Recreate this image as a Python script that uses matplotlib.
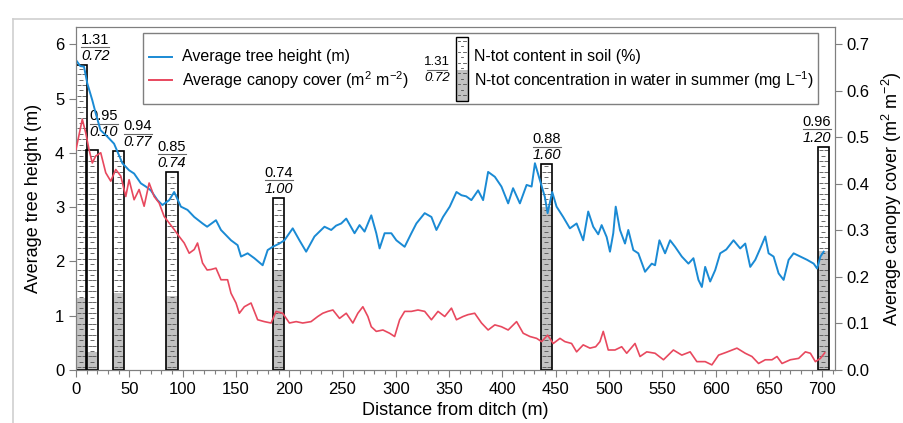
import matplotlib
matplotlib.use("Agg")
import matplotlib.pyplot as plt
import numpy as np
from matplotlib.patches import Rectangle
from matplotlib.transforms import offset_copy

plt.rcParams["font.family"] = ["Liberation Sans", "DejaVu Sans"]
plt.rcParams["mathtext.fontset"] = "custom"
plt.rcParams["mathtext.rm"] = "Liberation Sans"
plt.rcParams["mathtext.it"] = "Liberation Sans:italic"

# average tree height (m) along the transect
height_x = [0, 4, 7.5, 10.6, 15.3, 18.5, 23, 29.4, 35.7, 43.5, 49.8, 54.5, 60.8, 65.5,
            70.2, 76.4, 81.1, 87.4, 92.1, 98.4, 104.6, 110.9, 118.7, 123, 131.3, 136,
            145.4, 151.6, 154.8, 161, 167.3, 175.1, 179.8, 184.5, 190.8, 195.5, 203.3,
            209.6, 215.9, 223.7, 233.1, 239.4, 244, 248.8, 253.5, 261.3, 266, 270.7,
            277, 281.7, 284.8, 289.5, 295.8, 300.5, 308.3, 314.6, 319.3, 327.1, 333.4,
            338.1, 344.3, 350.6, 356.9, 361.6, 366, 370.9, 377.2, 381.9, 386.6, 392.9,
            399.1, 405.4, 410, 416.4, 422.7, 427.4, 430.5, 435.2, 439.8, 442.4, 446.7,
            450.8, 457, 463.3, 469.6, 475.8, 480.5, 485.2, 489.9, 493.1, 497.8, 500.9,
            504, 506.3, 510.3, 515, 518.1, 522.8, 527.5, 533.8, 540.1, 543.2, 547.3,
            552.6, 557.3, 562, 568.3, 574.5, 579.2, 583.9, 587.1, 590.2, 594.9, 599.6,
            604.3, 610, 616.8, 623.1, 627.8, 632.5, 637.2, 641.9, 646.6, 649.7, 654.4,
            659.1, 663.8, 668.5, 673.2, 679.5, 685.8, 692, 695.2, 698.3, 701.4]
height_m = [5.71, 5.60, 5.59, 5.28, 4.97, 4.73, 4.42, 4.30, 4.17, 3.81, 3.68, 3.62, 3.44,
            3.38, 3.31, 3.13, 3.04, 3.13, 3.28, 3.01, 2.95, 2.82, 2.70, 2.64, 2.76, 2.58,
            2.39, 2.30, 2.09, 2.15, 2.06, 1.93, 2.21, 2.27, 2.33, 2.39, 2.61, 2.39, 2.18,
            2.46, 2.64, 2.58, 2.66, 2.70, 2.79, 2.52, 2.67, 2.55, 2.85, 2.52, 2.24, 2.52,
            2.52, 2.39, 2.27, 2.52, 2.70, 2.89, 2.82, 2.58, 2.82, 3.01, 3.28, 3.22, 3.20,
            3.13, 3.31, 3.13, 3.65, 3.56, 3.38, 3.07, 3.35, 3.07, 3.41, 3.38, 3.81, 3.50,
            3.19, 2.89, 3.28, 3.01, 2.82, 2.61, 2.70, 2.39, 2.92, 2.64, 2.50, 2.67, 2.45,
            2.18, 2.52, 3.01, 2.58, 2.33, 2.58, 2.21, 2.15, 1.81, 1.96, 1.93, 2.39, 2.15,
            2.39, 2.27, 2.09, 1.96, 2.06, 1.66, 1.53, 1.90, 1.63, 1.84, 2.15, 2.22, 2.39,
            2.24, 2.33, 1.90, 2.03, 2.24, 2.46, 2.15, 2.09, 1.78, 1.66, 2.03, 2.15, 2.09,
            2.03, 1.96, 1.87, 2.09, 2.18]

# average canopy cover (m2 m-2)
canopy_x = [0, 5.9, 9.1, 12.2, 15.3, 18.5, 23.2, 27.9, 32.6, 37.3, 42, 46.7, 49.8, 54.5,
            59.2, 63.9, 68.6, 73.3, 78, 82.7, 87.4, 92.1, 96.8, 101.5, 106.2, 110.9, 114,
            118.7, 123, 126.6, 131.3, 136, 142.2, 145.4, 150.1, 153.2, 157.9, 164.2, 170.4,
            176.7, 183, 187.7, 193.9, 200.2, 206.5, 212.7, 220.5, 226.8, 231.5, 236.2, 241,
            247.2, 253.5, 259.7, 264.4, 269.1, 273.8, 277, 281.7, 287.9, 294.2, 298.9,
            303.6, 308.3, 314.6, 320.8, 327.1, 333.4, 339.6, 345.9, 352.2, 356.9, 363.1,
            367.8, 374, 380.4, 386.6, 392.9, 399.1, 405.4, 413.3, 419.5, 425.8, 432.1,
            436.8, 442.4, 447.7, 454, 458.6, 464.9, 469.6, 475.8, 482.1, 487.5, 491.5,
            494.6, 499.3, 505.6, 511.9, 516.6, 524.4, 529.1, 535.4, 543.2, 551.1, 560.4,
            568.3, 576.1, 582.4, 590.2, 596.5, 602.8, 610, 620, 627.8, 634.1, 640.3,
            646.6, 652.9, 657.6, 662.3, 670.1, 677.9, 684.2, 688.9, 693.6, 698.3, 702.4]
canopy_cov = [0.474, 0.539, 0.510, 0.474, 0.445, 0.460, 0.467, 0.424, 0.406, 0.431, 0.417,
              0.373, 0.409, 0.366, 0.388, 0.352, 0.402, 0.373, 0.359, 0.330, 0.316, 0.302,
              0.287, 0.273, 0.251, 0.259, 0.273, 0.230, 0.215, 0.216, 0.219, 0.194, 0.194,
              0.165, 0.144, 0.122, 0.136, 0.144, 0.108, 0.104, 0.101, 0.126, 0.122, 0.101,
              0.104, 0.101, 0.104, 0.115, 0.122, 0.126, 0.129, 0.111, 0.122, 0.101, 0.122,
              0.136, 0.115, 0.093, 0.083, 0.086, 0.079, 0.072, 0.108, 0.126, 0.126, 0.129,
              0.126, 0.108, 0.126, 0.115, 0.133, 0.108, 0.115, 0.119, 0.122, 0.101, 0.086,
              0.097, 0.093, 0.086, 0.104, 0.079, 0.072, 0.068, 0.061, 0.075, 0.057, 0.068,
              0.061, 0.057, 0.039, 0.054, 0.047, 0.050, 0.061, 0.083, 0.043, 0.043, 0.050,
              0.036, 0.057, 0.029, 0.039, 0.036, 0.022, 0.043, 0.032, 0.039, 0.018, 0.018,
              0.011, 0.032, 0.038, 0.047, 0.036, 0.029, 0.014, 0.022, 0.022, 0.029, 0.014,
              0.022, 0.025, 0.039, 0.036, 0.018, 0.025, 0.037]

# sampling points with N-tot values
bar_x = [5, 15, 40, 90, 190, 441, 701]
soil_n = ["1.31", "0.95", "0.94", "0.85", "0.74", "0.88", "0.96"]
water_n = ["0.72", "0.10", "0.77", "0.74", "1.00", "1.60", "1.20"]
# bar heights as drawn (left axis units)
soil_bar = [5.62, 4.05, 4.03, 3.65, 3.17, 3.79, 4.11]
water_bar = [1.32, 0.34, 1.41, 1.37, 1.84, 3.01, 2.20]
label_x = [18, 26, 58, 90, 190.5, 441.5, 695]
label_lift = [0, 9, 0, 0, 0, 0, 0]

BLUE = "#1a8ad4"
RED = "#e8485e"
GRAY = "#c2c2c2"
SPINE = "#7f7f7f"
DASH = "#505050"
W = 10.5


def dashes(ax, cx, top, width):
    ys = np.arange(0.05, top - 0.03, 0.1)
    xs_all, ys_all = [], []
    for k, y in enumerate(ys):
        if k % 2 == 0:
            xs_all += [cx - width * 0.22, cx + width * 0.22]
            ys_all += [y, y]
        else:
            xs_all.append(cx)
            ys_all.append(y)
    ax.plot(xs_all, ys_all, ls="none", marker="_", ms=2.6, mew=0.6,
            color=DASH, zorder=3)


fig = plt.figure(figsize=(9.04, 4.23), dpi=100)
ax = fig.add_axes([76 / 904, 53 / 423, (835 - 76) / 904, (370 - 27) / 423])
ax.set_xlim(0, 712)
ax.set_ylim(0, 6.32)

for i in range(len(bar_x)):
    ax.bar(bar_x[i], soil_bar[i], width=W, color="white", edgecolor="none", zorder=2)
    ax.bar(bar_x[i], water_bar[i], width=W, color=GRAY, edgecolor="none", zorder=2)
    dashes(ax, bar_x[i], soil_bar[i], W)
    ax.bar(bar_x[i], soil_bar[i], width=W, fill=False, edgecolor="black", lw=1.2, zorder=3)

    lift = label_lift[i]
    t_low = offset_copy(ax.transData, fig=fig, x=0, y=9 + lift, units="dots")
    t_mid = offset_copy(ax.transData, fig=fig, x=0, y=17.5 + lift, units="dots")
    t_up = offset_copy(ax.transData, fig=fig, x=0, y=25 + lift, units="dots")
    ax.text(label_x[i], soil_bar[i], water_n[i], transform=t_low, ha="center",
            va="center", fontsize=10.5, style="italic")
    ax.text(label_x[i], soil_bar[i], soil_n[i], transform=t_up, ha="center",
            va="center", fontsize=10.5)
    ax.plot([label_x[i] - 13, label_x[i] + 13], [soil_bar[i]] * 2, color="#666666",
            lw=0.8, transform=t_mid, clip_on=False)

ax.plot(height_x, height_m, color=BLUE, lw=1.4, zorder=4)

ax.set_xticks(np.arange(0, 701, 50))
ax.set_xticks(np.arange(0, 711, 10), minor=True)
ax.set_yticks(np.arange(0, 7, 1))
ax.tick_params(axis="both", which="major", direction="out", length=5, width=0.8,
               color=SPINE, labelsize=12)
ax.tick_params(axis="x", which="minor", direction="out", length=3, width=0.8, color=SPINE)
for s in ax.spines.values():
    s.set_color(SPINE)
ax.set_xlabel("Distance from ditch (m)", fontsize=13, labelpad=4)
ax.set_ylabel("Average tree height (m)", fontsize=13, labelpad=9)

ax2 = ax.twinx()
ax2.set_ylim(0, 6.32 * 0.7 / 6)
ax2.plot(canopy_x, canopy_cov, color=RED, lw=1.2, zorder=4)
ax2.set_yticks(np.arange(0, 0.71, 0.1))
ax2.set_yticklabels([f"{v:.1f}" for v in np.arange(0, 0.71, 0.1)])
ax2.tick_params(axis="y", direction="out", length=5, width=0.8, color=SPINE, labelsize=12)
for s in ax2.spines.values():
    s.set_color(SPINE)
ax2.set_ylabel(r"Average canopy cover (m$^\mathregular{2}$ m$^\mathregular{-2}$)",
               fontsize=13, labelpad=7)

# legend and frame drawn in pixel coordinates
ov = fig.add_axes([0, 0, 1, 1], zorder=10)
ov.set_xlim(0, 904)
ov.set_ylim(423, 0)
ov.axis("off")
ov.patch.set_alpha(0)
ov.plot([13, 904], [19, 19], color="#cfcfcf", lw=1.2)
ov.plot([13, 13], [19, 423], color="#cfcfcf", lw=1.2)

ov.add_patch(Rectangle((143, 33), 675, 71, facecolor="white", edgecolor=SPINE, lw=1))
ov.plot([149, 172], [57, 57], color=BLUE, lw=1.4)
ov.plot([149, 172], [80, 80], color=RED, lw=1.4)
ov.text(182, 57, "Average tree height (m)", fontsize=11.5, va="center")
ov.text(182, 80, r"Average canopy cover (m$^\mathregular{2}$ m$^\mathregular{-2}$)",
        fontsize=11.5, va="center")
ov.add_patch(Rectangle((456, 70), 12, 31, facecolor=GRAY, edgecolor="none"))
for k, yy in enumerate(np.arange(41, 100, 5.4)):
    if k % 2 == 0:
        ov.plot([458, 460.5], [yy, yy], color=DASH, lw=0.6)
        ov.plot([463.5, 466], [yy, yy], color=DASH, lw=0.6)
    else:
        ov.plot([460.8, 463.2], [yy, yy], color=DASH, lw=0.6)
ov.add_patch(Rectangle((456, 37), 12, 64, fill=False, edgecolor="black", lw=1))
ov.text(437, 62, "1.31", fontsize=9.5, ha="center", va="center")
ov.plot([427, 447], [70, 70], color="#666666", lw=0.8)
ov.text(437, 78, "0.72", fontsize=9.5, ha="center", va="center", style="italic")
ov.text(474, 57, "N-tot content in soil (%)", fontsize=11.5, va="center")
ov.text(474, 80, r"N-tot concentration in water in summer (mg L$^\mathregular{-1}$)",
        fontsize=11.5, va="center")

fig.savefig("out.png", dpi=100)
